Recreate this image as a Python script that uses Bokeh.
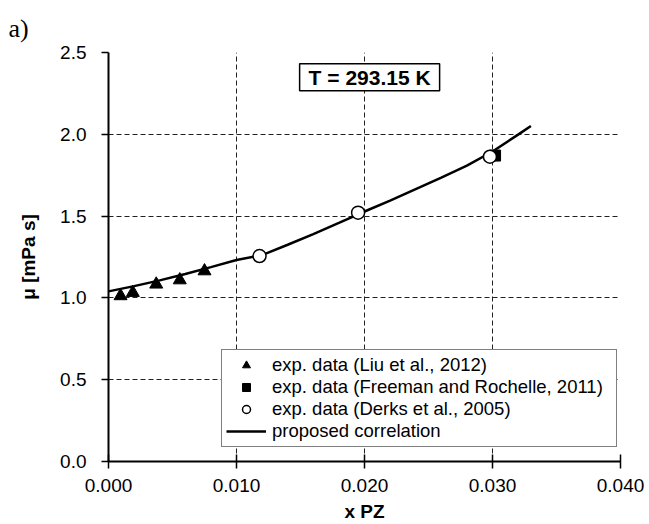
from bokeh.plotting import figure
from bokeh.models import (Range1d, FixedTicker, PrintfTickFormatter, Label,
                          Legend, LegendItem)
from bokeh.embed import file_html
from bokeh.resources import INLINE

# ---- data ----
liu_x = [0.00094, 0.0019, 0.00373, 0.00557, 0.0075]
liu_y = [1.012, 1.032, 1.083, 1.109, 1.164]

freeman_x = [0.0302]
freeman_y = [1.870]

derks_x = [0.0118, 0.0195, 0.0298]
derks_y = [1.256, 1.521, 1.863]

corr_x = [0.000, 0.002, 0.004, 0.006, 0.008, 0.010, 0.012, 0.014, 0.016,
          0.018, 0.020, 0.022, 0.024, 0.026, 0.028, 0.030, 0.032, 0.033]
corr_y = [1.040, 1.072, 1.107, 1.146, 1.188, 1.232, 1.262, 1.325, 1.390,
          1.458, 1.528, 1.595, 1.665, 1.735, 1.808, 1.895, 1.998, 2.051]

x_ticks = [0.0, 0.01, 0.02, 0.03, 0.04]
y_ticks = [0.0, 0.5, 1.0, 1.5, 2.0, 2.5]

FONT = "Liberation Sans"

p = figure(width=649, height=524, x_range=Range1d(0, 0.04), y_range=Range1d(0, 2.5),
           output_backend="svg", toolbar_location=None,
           min_border_left=108, min_border_right=29, min_border_top=52,
           min_border_bottom=63)
p.outline_line_color = None
p.background_fill_color = "white"
p.border_fill_color = "white"

# panel label "a)" as the title
p.title.text = "a)"
p.title.text_font = "Liberation Serif"
p.title.text_font_size = "26px"
p.title.text_font_style = "normal"
p.title.text_color = "black"
p.title.align = "left"
p.title.offset = -100
p.title.standoff = 19

# axes
p.xaxis.ticker = FixedTicker(ticks=x_ticks)
p.yaxis.ticker = FixedTicker(ticks=y_ticks)
p.xaxis.formatter = PrintfTickFormatter(format="%.3f")
p.yaxis.formatter = PrintfTickFormatter(format="%.1f")
for ax in (p.xaxis, p.yaxis):
    ax.axis_line_color = "black"
    ax.axis_line_width = 2
    ax.major_tick_line_color = "black"
    ax.major_tick_line_width = 1.5
    ax.minor_tick_line_color = None
    ax.major_label_text_font = FONT
    ax.major_label_text_font_size = "19px"
    ax.major_label_text_color = "black"
    ax.axis_label_text_font = FONT
    ax.axis_label_text_font_style = "bold"
    ax.axis_label_text_color = "black"
p.xaxis.major_tick_in = 7
p.xaxis.major_tick_out = 7
p.yaxis.major_tick_in = 0
p.yaxis.major_tick_out = 7
p.xaxis.major_label_standoff = 10
p.yaxis.major_label_standoff = 15
p.xaxis.axis_label = "x PZ"
p.xaxis.axis_label_text_font_size = "19px"
p.xaxis.axis_label_standoff = 6
p.yaxis.axis_label = "\u03bc [mPa s]"
p.yaxis.axis_label_text_font_size = "19px"
p.yaxis.axis_label_standoff = 18

# grid
p.xgrid.ticker = FixedTicker(ticks=x_ticks)
p.ygrid.ticker = FixedTicker(ticks=y_ticks)
for g in (p.xgrid, p.ygrid):
    g.grid_line_color = "#222222"
    g.grid_line_dash = "5 3"
    g.grid_line_width = 1

# glyphs
r_line = p.line(corr_x, corr_y, line_color="black", line_width=2.5)
r_liu = p.scatter(liu_x, liu_y, marker="triangle", size=13, fill_color="black",
                  line_color="black")
r_free = p.scatter(freeman_x, freeman_y, marker="square", size=11, fill_color="black",
                   line_color="black")
r_derks = p.scatter(derks_x, derks_y, marker="circle", size=13, fill_color="white",
                    line_color="black", line_width=1.5)

legend = Legend(items=[
    LegendItem(label="exp. data (Liu et al., 2012)", renderers=[r_liu]),
    LegendItem(label="exp. data (Freeman and Rochelle, 2011)", renderers=[r_free]),
    LegendItem(label="exp. data (Derks et al., 2005)", renderers=[r_derks]),
    LegendItem(label="proposed correlation", renderers=[r_line]),
], location=(113, 14))
legend.label_text_font = FONT
legend.label_text_font_size = "18.5px"
legend.label_text_color = "black"
legend.glyph_width = 40
legend.glyph_height = 20
legend.label_height = 20
legend.label_width = 340
legend.label_standoff = 6
legend.spacing = 0
legend.padding = 4
legend.margin = 0
legend.border_line_color = "black"
legend.border_line_width = 1.5
legend.background_fill_color = "white"
legend.background_fill_alpha = 1
p.add_layout(legend)

title_box = Label(x=0.0204, y=2.348, text="T = 293.15 K", text_align="center",
                  text_baseline="middle", text_font=FONT, text_font_size="21px",
                  text_font_style="bold", text_color="black",
                  border_line_color="black", border_line_width=1.5,
                  background_fill_color="white", padding=(9, 2))
p.add_layout(title_box)

open("out.html", "w").write(file_html(p, INLINE))
